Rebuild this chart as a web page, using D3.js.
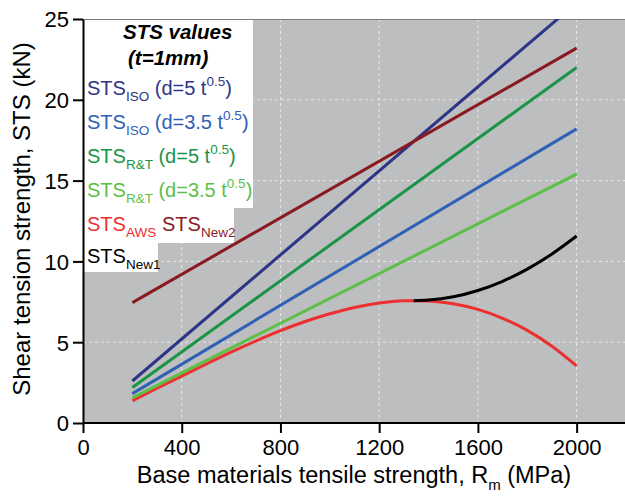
<!DOCTYPE html>
<html>
<head>
<meta charset="utf-8">
<script src="https://cdn.jsdelivr.net/npm/d3@7"></script>
<style>
  body { margin: 0; background: #fff; }
  svg { display: block; font-family: "Liberation Sans", Arial, sans-serif; }
</style>
</head>
<body>
<svg id="chart"></svg>
<script>
// dimensions of the picture
var width = 625;
var height = 496;

// plot area (pixels)
var plotLeft = 83, plotRight = 626, plotTop = 19, plotBottom = 423;

// ---- data ----
var xTicks = [0, 400, 800, 1200, 1600, 2000];
var yTicks = [0, 5, 10, 15, 20, 25];

var rmLinear = [200, 2000];
var stsIso5 = [2.6, 26.0];
var stsIso35 = [1.82, 18.2];
var stsRT5 = [2.2, 22.0];
var stsRT35 = [1.56, 15.4];
var stsNew2 = [7.45, 23.2];

var rmAws = [200, 300, 400, 500, 600, 700, 800, 900, 1000, 1100, 1200, 1300, 1340, 1400, 1500, 1600, 1700, 1800, 1900, 2000];
var stsAws = [1.38, 2.15, 2.9, 3.65, 4.38, 5.07, 5.71, 6.28, 6.76, 7.15, 7.42, 7.56, 7.57, 7.55, 7.38, 7.03, 6.48, 5.73, 4.75, 3.53];

var rmNew1 = [1340, 1400, 1500, 1600, 1700, 1800, 1900, 2000];
var stsNew1 = [7.57, 7.61, 7.81, 8.2, 8.77, 9.52, 10.46, 11.57];

// series drawn in this order (AWS under New1)
var seriesNames = ['AWS', 'New1', 'RT35', 'Iso35', 'RT5', 'Iso5', 'New2'];
var seriesColors = {
	Iso5: '#2e3586',
	Iso35: '#2f60b5',
	RT5: '#1b9447',
	RT35: '#5cbf46',
	AWS: '#ee2f2f',
	New2: '#8a1a1f',
	New1: '#000000'
};

function pairs(xs, ys) {
	return xs.map(function(x, i) { return [x, ys[i]]; });
}
var seriesData = {
	AWS: pairs(rmAws, stsAws),
	New1: pairs(rmNew1, stsNew1),
	RT35: pairs(rmLinear, stsRT35),
	Iso35: pairs(rmLinear, stsIso35),
	RT5: pairs(rmLinear, stsRT5),
	Iso5: pairs(rmLinear, stsIso5),
	New2: pairs(rmLinear, stsNew2)
};

var svg = d3.select('#chart')
	.attr('width', width)
	.attr('height', height);

var x = d3.scaleLinear().domain([0, 2200]).range([plotLeft, plotRight]);
var y = d3.scaleLinear().domain([0, 25]).range([plotBottom, plotTop]);

// grey plot background
svg.append('rect')
	.attr('x', plotLeft).attr('y', plotTop)
	.attr('width', plotRight - plotLeft).attr('height', plotBottom - plotTop)
	.attr('fill', '#bcbebf');

// dashed white grid
svg.append('g')
	.selectAll('line')
	.data(xTicks.slice(1))
	.enter().append('line')
	.attr('x1', function(d) { return x(d); })
	.attr('x2', function(d) { return x(d); })
	.attr('y1', plotTop).attr('y2', plotBottom)
	.attr('stroke', '#e8e8e8')
	.attr('stroke-width', 1)
	.attr('stroke-dasharray', '3,3');

svg.append('g')
	.selectAll('line')
	.data(yTicks.slice(1, -1))
	.enter().append('line')
	.attr('x1', plotLeft).attr('x2', plotRight)
	.attr('y1', function(d) { return y(d); })
	.attr('y2', function(d) { return y(d); })
	.attr('stroke', '#e8e8e8')
	.attr('stroke-width', 1)
	.attr('stroke-dasharray', '3,3');

// top border
svg.append('line')
	.attr('x1', plotLeft).attr('x2', plotRight)
	.attr('y1', plotTop + 0.5).attr('y2', plotTop + 0.5)
	.attr('stroke', '#7a7a7a')
	.attr('stroke-width', 1);

// legend background (stepped white boxes)
var legendBoxes = [
	[plotLeft, plotTop + 1, 253, 208],
	[plotLeft, 207, 234, 243],
	[plotLeft, 242, 158, 272]
];
svg.append('g')
	.selectAll('rect')
	.data(legendBoxes)
	.enter().append('rect')
	.attr('x', function(d) { return d[0]; })
	.attr('y', function(d) { return d[1]; })
	.attr('width', function(d) { return d[2] - d[0]; })
	.attr('height', function(d) { return d[3] - d[1]; })
	.attr('fill', '#fff');

// clip lines to the plot
svg.append('clipPath').attr('id', 'plotclip')
	.append('rect')
	.attr('x', plotLeft).attr('y', plotTop)
	.attr('width', plotRight - plotLeft).attr('height', plotBottom - plotTop);

var line = d3.line()
	.x(function(d) { return x(d[0]); })
	.y(function(d) { return y(d[1]); })
	.curve(d3.curveMonotoneX);

svg.append('g')
	.attr('clip-path', 'url(#plotclip)')
	.selectAll('path')
	.data(seriesNames)
	.enter().append('path')
	.attr('d', function(name) { return line(seriesData[name]); })
	.attr('fill', 'none')
	.attr('stroke', function(name) { return seriesColors[name]; })
	.attr('stroke-width', 3);

// axes
var xAxis = svg.append('g')
	.attr('transform', 'translate(0,' + plotBottom + ')')
	.call(d3.axisBottom(x).tickValues(xTicks).tickFormat(d3.format('d'))
		.tickSize(10).tickSizeOuter(0).tickPadding(6));
var yAxis = svg.append('g')
	.attr('transform', 'translate(' + plotLeft + ',0)')
	.call(d3.axisLeft(y).tickValues(yTicks).tickFormat(d3.format('d'))
		.tickSize(10).tickSizeOuter(0).tickPadding(4));

[xAxis, yAxis].forEach(function(ax) {
	ax.select('.domain').attr('stroke', '#000').attr('stroke-width', 2);
	ax.selectAll('.tick line').attr('stroke', '#000').attr('stroke-width', 2);
	ax.selectAll('.tick text')
		.attr('fill', '#000')
		.style('font-size', '22px')
		.style('font-family', '"Liberation Sans", Arial, sans-serif');
});
xAxis.select('.domain').attr('d', 'M' + plotLeft + ',0H' + plotRight);
yAxis.selectAll('.tick text').attr('dy', '0.36em');

// axis titles
var xTitle = svg.append('text')
	.attr('x', 354).attr('y', 483)
	.attr('text-anchor', 'middle')
	.style('font-size', '23.5px')
	.attr('fill', '#000');
xTitle.append('tspan').text('Base materials tensile strength, R');
xTitle.append('tspan').attr('dy', 7).style('font-size', '15px').text('m');
xTitle.append('tspan').attr('dy', -7).text(' (MPa)');

svg.append('text')
	.attr('transform', 'translate(30,' + ((plotTop + plotBottom) / 2 - 2) + ') rotate(-90)')
	.attr('text-anchor', 'middle')
	.style('font-size', '24px')
	.attr('fill', '#000')
	.text('Shear tension strength, STS (kN)');

// legend text
svg.append('text')
	.attr('x', 123).attr('y', 39)
	.style('font-size', '20.5px').style('font-weight', 'bold').style('font-style', 'italic')
	.text('STS values');
svg.append('text')
	.attr('x', 128).attr('y', 65)
	.style('font-size', '20.5px').style('font-weight', 'bold').style('font-style', 'italic')
	.text('(t=1mm)');

var legendRows = [
	{ sub: 'ISO', rest: ' (d=5 t', sup: '0.5', color: seriesColors.Iso5, yy: 95 },
	{ sub: 'ISO', rest: ' (d=3.5 t', sup: '0.5', color: seriesColors.Iso35, yy: 129 },
	{ sub: 'R&T', rest: ' (d=5 t', sup: '0.5', color: seriesColors.RT5, yy: 163 },
	{ sub: 'R&T', rest: ' (d=3.5 t', sup: '0.5', color: seriesColors.RT35, yy: 197 }
];

legendRows.forEach(function(r) {
	var t = svg.append('text')
		.attr('x', 87).attr('y', r.yy)
		.style('font-size', '20px')
		.attr('fill', r.color);
	t.append('tspan').text('STS');
	t.append('tspan').attr('dy', 6).style('font-size', '13.5px').text(r.sub);
	t.append('tspan').attr('dy', -6).text(r.rest);
	t.append('tspan').attr('dy', -9).style('font-size', '13.5px').text(r.sup);
	t.append('tspan').attr('dy', 9).text(')');
});

function stsLabel(xx, yy, sub, color) {
	var t = svg.append('text')
		.attr('x', xx).attr('y', yy)
		.style('font-size', '20px')
		.attr('fill', color);
	t.append('tspan').text('STS');
	t.append('tspan').attr('dy', 6).style('font-size', '13.5px').text(sub);
}
stsLabel(87, 231, 'AWS', seriesColors.AWS);
stsLabel(162, 231, 'New2', seriesColors.New2);
stsLabel(87, 263, 'New1', seriesColors.New1);
</script>
</body>
</html>
